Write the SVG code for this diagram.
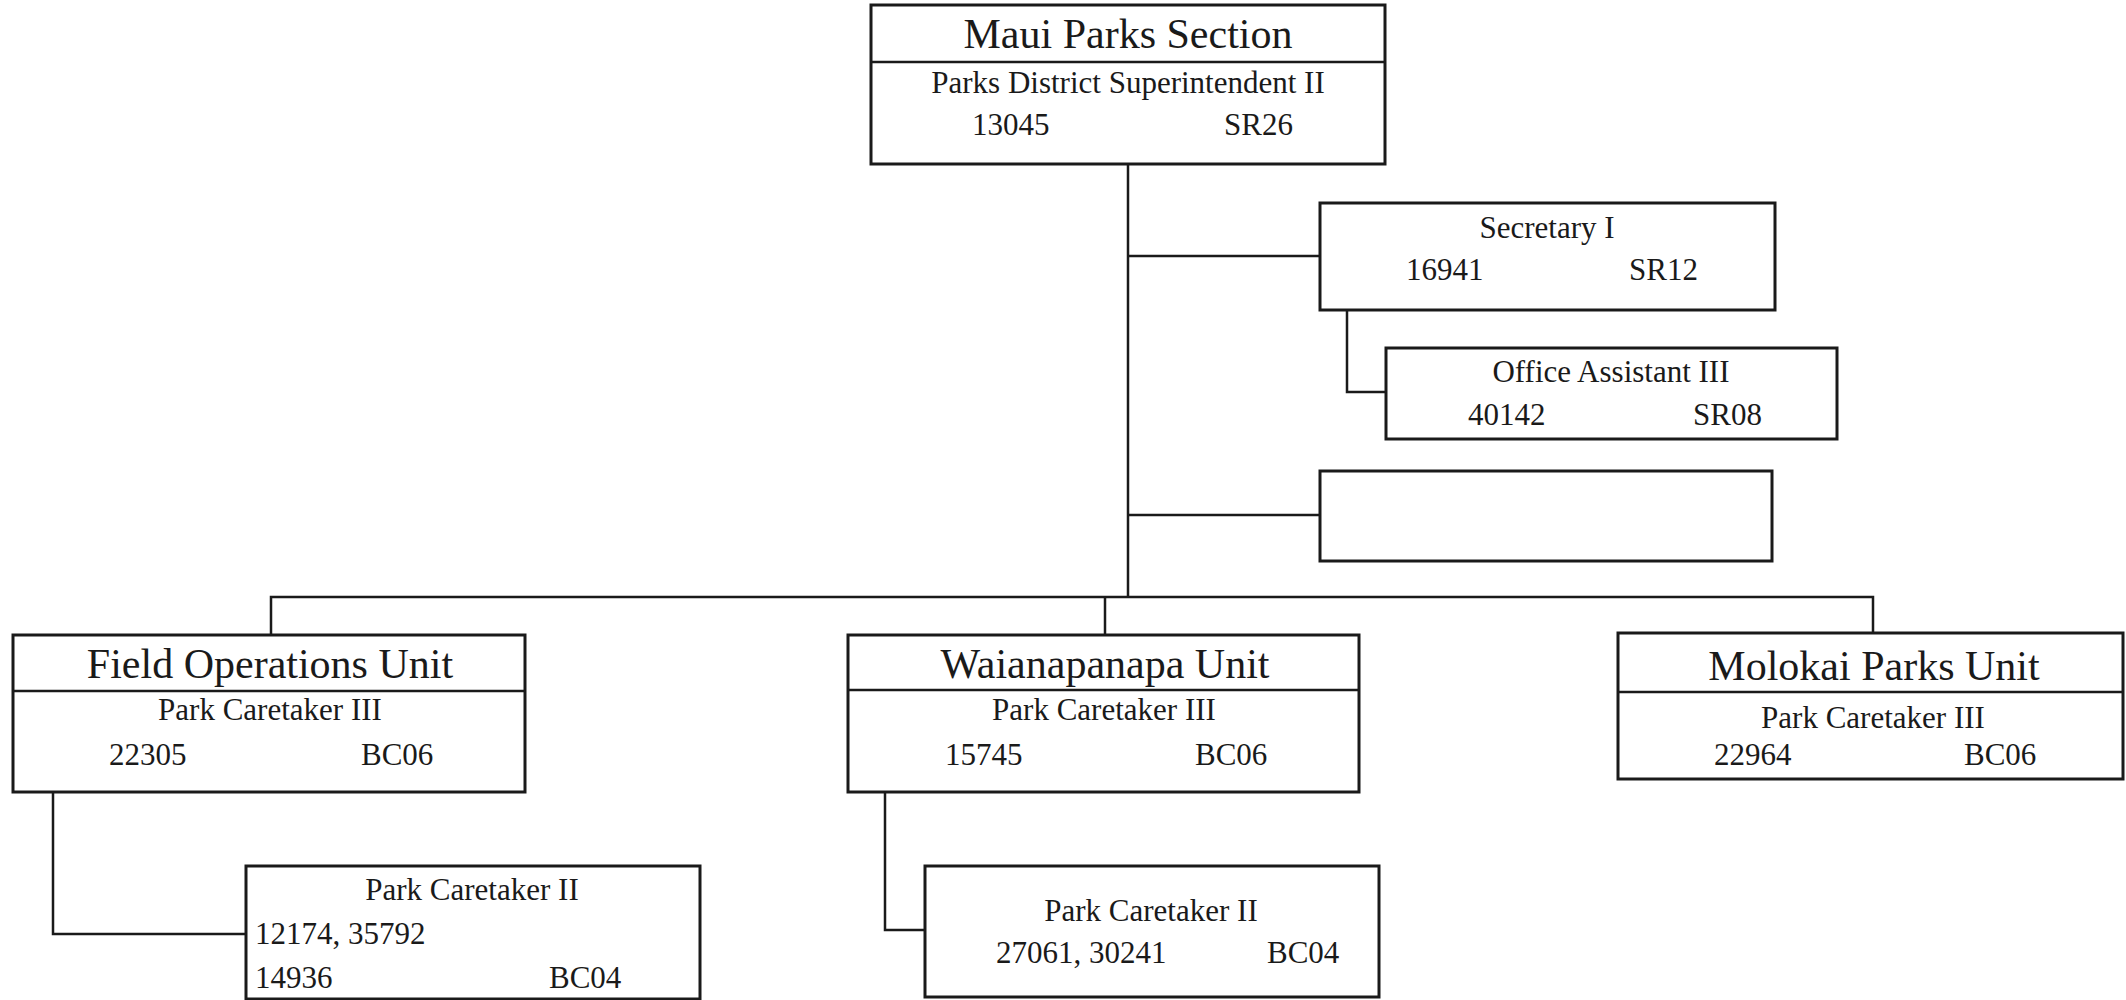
<svg xmlns="http://www.w3.org/2000/svg" width="2126" height="1000" viewBox="0 0 2126 1000">
<style>
.box{fill:#fff;stroke:#1a1a1a;stroke-width:3}
.div{stroke:#1a1a1a;stroke-width:2.5}
.ln{fill:none;stroke:#1a1a1a;stroke-width:2.5}
text{font-family:"Liberation Serif","Times New Roman",serif;fill:#1a1a1a}
.t{font-size:42px;text-anchor:middle}
.b{font-size:31px}
.c{text-anchor:middle}
</style>
<rect width="2126" height="1000" fill="#fff"/>
<g id="connectors">
<path class="ln" d="M1128 164 V597"/>
<path class="ln" d="M271 635 V597 H1873 V633"/>
<path class="ln" d="M1105 597 V635"/>
<path class="ln" d="M1128 256 H1320"/>
<path class="ln" d="M1128 515 H1320"/>
<path class="ln" d="M1347 310 V392 H1386"/>
<path class="ln" d="M53 792 V934 H246"/>
<path class="ln" d="M885 792 V930 H925"/>
</g>
<g id="maui">
<rect class="box" x="871" y="5" width="514" height="159"/>
<line class="div" x1="871" y1="62" x2="1385" y2="62"/>
<text class="t" x="1128" y="48">Maui Parks Section</text>
<text class="b c" x="1128" y="93">Parks District Superintendent II</text>
<text class="b" x="972" y="135">13045</text>
<text class="b" x="1224" y="135">SR26</text>
</g>
<g id="secretary">
<rect class="box" x="1320" y="203" width="455" height="107"/>
<text class="b c" x="1547" y="238">Secretary I</text>
<text class="b" x="1406" y="280">16941</text>
<text class="b" x="1629" y="280">SR12</text>
</g>
<g id="office-assistant">
<rect class="box" x="1386" y="348" width="451" height="91"/>
<text class="b c" x="1611" y="382">Office Assistant III</text>
<text class="b" x="1468" y="425">40142</text>
<text class="b" x="1693" y="425">SR08</text>
</g>
<g id="empty">
<rect class="box" x="1320" y="471" width="452" height="90"/>
</g>
<g id="field-ops">
<rect class="box" x="13" y="635" width="512" height="157"/>
<line class="div" x1="13" y1="691" x2="525" y2="691"/>
<text class="t" x="270" y="678">Field Operations Unit</text>
<text class="b c" x="270" y="720">Park Caretaker III</text>
<text class="b" x="109" y="765">22305</text>
<text class="b" x="361" y="765">BC06</text>
</g>
<g id="waianapanapa">
<rect class="box" x="848" y="635" width="511" height="157"/>
<line class="div" x1="848" y1="690" x2="1359" y2="690"/>
<text class="t" x="1105" y="678">Waianapanapa Unit</text>
<text class="b c" x="1104" y="720">Park Caretaker III</text>
<text class="b" x="945" y="765">15745</text>
<text class="b" x="1195" y="765">BC06</text>
</g>
<g id="molokai">
<rect class="box" x="1618" y="633" width="505" height="146"/>
<line class="div" x1="1618" y1="692" x2="2123" y2="692"/>
<text class="t" x="1874" y="680">Molokai Parks Unit</text>
<text class="b c" x="1873" y="728">Park Caretaker III</text>
<text class="b" x="1714" y="765">22964</text>
<text class="b" x="1964" y="765">BC06</text>
</g>
<g id="field-caretaker-ii">
<rect class="box" x="246" y="866" width="454" height="133"/>
<text class="b c" x="472" y="900">Park Caretaker II</text>
<text class="b" x="255" y="944">12174, 35792</text>
<text class="b" x="255" y="988">14936</text>
<text class="b" x="549" y="988">BC04</text>
</g>
<g id="waianapanapa-caretaker-ii">
<rect class="box" x="925" y="866" width="454" height="131"/>
<text class="b c" x="1151" y="921">Park Caretaker II</text>
<text class="b" x="996" y="963">27061, 30241</text>
<text class="b" x="1267" y="963">BC04</text>
</g>
</svg>
